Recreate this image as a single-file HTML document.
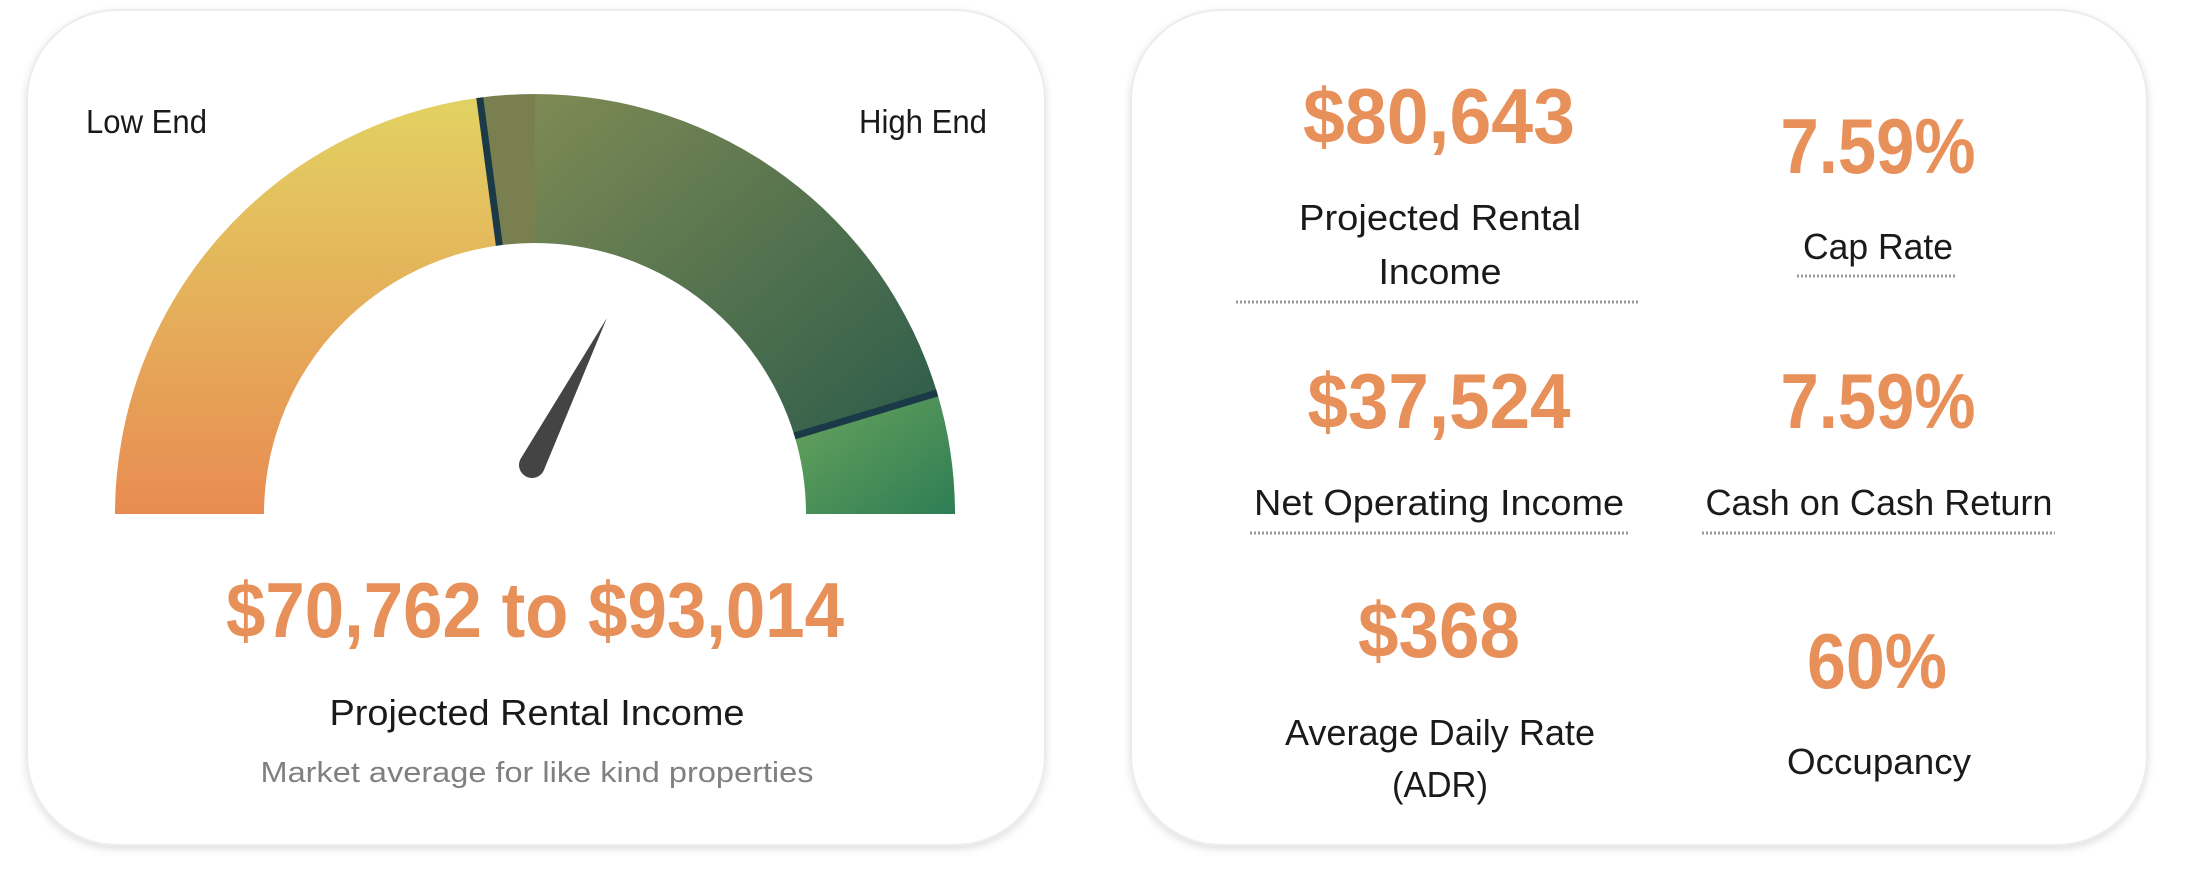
<!DOCTYPE html>
<html><head><meta charset="utf-8"><style>
html,body{margin:0;padding:0;background:#fff;width:2202px;height:874px;overflow:hidden}
svg{display:block}
text{font-family:"Liberation Sans Narrow","Liberation Sans",sans-serif}
.num{fill:#e8905a;font-weight:bold}
.lbl{fill:#1a1a1a}
</style></head><body>
<svg width="2202" height="874" viewBox="0 0 2202 874">
<defs>
<filter id="sh" x="-5%" y="-5%" width="110%" height="110%"><feDropShadow dx="0" dy="3" stdDeviation="4" flood-color="#000" flood-opacity="0.13"/></filter>
<linearGradient id="gLow" x1="0" y1="0" x2="0" y2="1"><stop offset="0" stop-color="#e2d262"/><stop offset="1" stop-color="#e88c52"/></linearGradient>
<linearGradient id="gMid" x1="0" y1="0" x2="1" y2="1"><stop offset="0" stop-color="#7e8a54"/><stop offset="1" stop-color="#2c5c4a"/></linearGradient>
<linearGradient id="gHigh" x1="0" y1="0" x2="1" y2="1"><stop offset="0" stop-color="#6aa45c"/><stop offset="1" stop-color="#2e7d55"/></linearGradient>
</defs>
<rect x="27" y="10" width="1018" height="835" rx="90" fill="#fff" stroke="#ececec" stroke-width="2" filter="url(#sh)"/>
<rect x="1131" y="10" width="1016" height="835" rx="90" fill="#fff" stroke="#ececec" stroke-width="2" filter="url(#sh)"/>
<g id="gauge"></g>
<text x="86" y="133" font-size="33" class="lbl" textLength="121" lengthAdjust="spacingAndGlyphs">Low End</text>
<text x="859" y="133" font-size="33" class="lbl" textLength="128" lengthAdjust="spacingAndGlyphs">High End</text>
<text x="535" y="637" font-size="78" class="num" text-anchor="middle" textLength="618" lengthAdjust="spacingAndGlyphs">$70,762 to $93,014</text>
<text x="537" y="725" font-size="36" class="lbl" text-anchor="middle" textLength="415" lengthAdjust="spacingAndGlyphs">Projected Rental Income</text>
<text x="537" y="782" font-size="29" fill="#808080" text-anchor="middle" textLength="553" lengthAdjust="spacingAndGlyphs">Market average for like kind properties</text>

<g>
<text x="1439" y="143" font-size="78" class="num" text-anchor="middle" textLength="272" lengthAdjust="spacingAndGlyphs">$80,643</text>
<text x="1440" y="230" font-size="36" class="lbl" text-anchor="middle" textLength="282" lengthAdjust="spacingAndGlyphs">Projected Rental</text>
<text x="1440" y="284" font-size="36" class="lbl" text-anchor="middle" textLength="123" lengthAdjust="spacingAndGlyphs">Income</text>
<line x1="1236" y1="302" x2="1638" y2="302" stroke="#9a9a9a" stroke-width="3" stroke-dasharray="2 2"/>
</g>
<g>
<text x="1878" y="173" font-size="78" class="num" text-anchor="middle" textLength="195" lengthAdjust="spacingAndGlyphs">7.59%</text>
<text x="1878" y="259" font-size="36" class="lbl" text-anchor="middle" textLength="150" lengthAdjust="spacingAndGlyphs">Cap Rate</text>
<line x1="1797" y1="276" x2="1956" y2="276" stroke="#9a9a9a" stroke-width="3" stroke-dasharray="2 2"/>
</g>
<g>
<text x="1439" y="428" font-size="78" class="num" text-anchor="middle" textLength="263" lengthAdjust="spacingAndGlyphs">$37,524</text>
<text x="1439" y="515" font-size="36" class="lbl" text-anchor="middle" textLength="370" lengthAdjust="spacingAndGlyphs">Net Operating Income</text>
<line x1="1250" y1="533" x2="1629" y2="533" stroke="#9a9a9a" stroke-width="3" stroke-dasharray="2 2"/>
</g>
<g>
<text x="1878" y="428" font-size="78" class="num" text-anchor="middle" textLength="195" lengthAdjust="spacingAndGlyphs">7.59%</text>
<text x="1879" y="515" font-size="36" class="lbl" text-anchor="middle" textLength="347" lengthAdjust="spacingAndGlyphs">Cash on Cash Return</text>
<line x1="1702" y1="533" x2="2055" y2="533" stroke="#9a9a9a" stroke-width="3" stroke-dasharray="2 2"/>
</g>
<g>
<text x="1439" y="657" font-size="78" class="num" text-anchor="middle" textLength="162" lengthAdjust="spacingAndGlyphs">$368</text>
<text x="1440" y="745" font-size="36" class="lbl" text-anchor="middle" textLength="310" lengthAdjust="spacingAndGlyphs">Average Daily Rate</text>
<text x="1440" y="797" font-size="36" class="lbl" text-anchor="middle" textLength="96" lengthAdjust="spacingAndGlyphs">(ADR)</text>
</g>
<g>
<text x="1877" y="688" font-size="78" class="num" text-anchor="middle" textLength="140" lengthAdjust="spacingAndGlyphs">60%</text>
<text x="1879" y="774" font-size="36" class="lbl" text-anchor="middle" textLength="184" lengthAdjust="spacingAndGlyphs">Occupancy</text>
</g>
</svg>
<script>
// gauge data (scale 0..100 mapped left->right)
const segStarts = [0, 45.8, 50, 90.7];
const segEnds = [45.8, 50, 90.7, 100];
const segFills = ["url(#gLow)", "#7a7f50", "url(#gMid)", "url(#gHigh)"];
const dividers = [45.8, 90.7];
const needleValue = 65;

const NS = "http://www.w3.org/2000/svg";
const cx = 535, cy = 514, rOut = 420, rIn = 271;
function ang(v){ return Math.PI * (1 - v / 100); }
function pt(v, r){ const a = ang(v); return [cx + r * Math.cos(a), cy - r * Math.sin(a)]; }
const g = document.getElementById("gauge");
segStarts.forEach((s, i) => {
  const e = segEnds[i];
  const [x1,y1] = pt(s,rOut), [x2,y2] = pt(e,rOut), [x3,y3] = pt(e,rIn), [x4,y4] = pt(s,rIn);
  const p = document.createElementNS(NS, "path");
  p.setAttribute("d", `M${x1},${y1} A${rOut},${rOut} 0 0 1 ${x2},${y2} L${x3},${y3} A${rIn},${rIn} 0 0 0 ${x4},${y4} Z`);
  p.setAttribute("fill", segFills[i]);
  
  
  g.appendChild(p);
});
dividers.forEach(v => {
  const [x1,y1] = pt(v,rIn), [x2,y2] = pt(v,rOut);
  const l = document.createElementNS(NS, "line");
  l.setAttribute("x1",x1); l.setAttribute("y1",y1); l.setAttribute("x2",x2); l.setAttribute("y2",y2);
  l.setAttribute("stroke","#1b3a48"); l.setAttribute("stroke-width","7");
  
  
  g.appendChild(l);
});
// needle pivot
const px = 532, py = 465, len = 165, w = 13;
const a = ang(needleValue);
const tx = px + len*Math.cos(a), ty = py - len*Math.sin(a);
const nx = Math.sin(a)*w, ny = Math.cos(a)*w;
const n = document.createElementNS(NS, "path");
n.setAttribute("d", `M${px-nx},${py-ny} L${tx},${ty} L${px+nx},${py+ny} A${w},${w} 0 0 1 ${px-nx},${py-ny} Z`);
n.setAttribute("fill", "#444");


g.appendChild(n);
</script>
</body></html>
